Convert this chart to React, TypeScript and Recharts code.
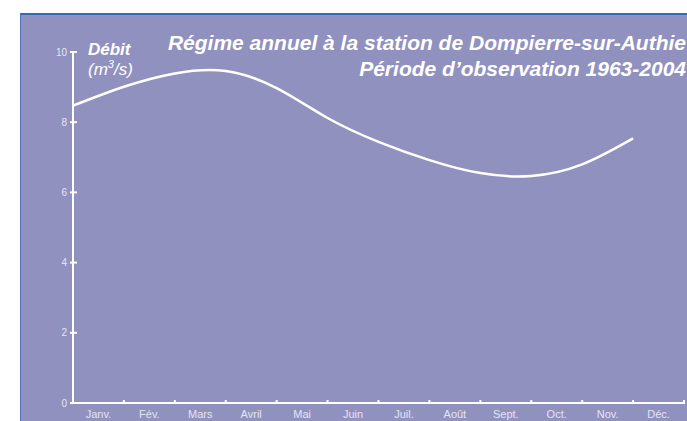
import { LineChart, Line, XAxis, YAxis } from 'recharts';

const monthLabels = ['Janv.', 'Fév.', 'Mars', 'Avril', 'Mai', 'Juin', 'Juil.', 'Août', 'Sept.', 'Oct.', 'Nov.', 'Déc.'];
const debit = [8.47, 9.01, 9.39, 9.46, 8.97, 8.12, 7.44, 6.92, 6.55, 6.47, 6.8, 7.54];
const yTicks = [0, 2, 4, 6, 8, 10];

const data = debit.map((v, i) => ({ m: i, debit: v }));
const boundaryTicks = [...monthLabels.map((_, i) => i), monthLabels.length];

const W = 687;
const H = 421;
const margin = { top: 52, right: 3, left: 0, bottom: 0 };
const yAxisWidth = 73;
const step = (W - margin.left - margin.right - yAxisWidth) / monthLabels.length;

const font = '"Liberation Sans", Arial, sans-serif';
const bg = '#9191c0';
const tickText = '#e4e4f2';

// boundary mark + month label centred in the following interval
const XMark = (props: any) => {
    const { x, y, index } = props;
    const label = monthLabels[index];
    return (
        <g>
            <line x1={x} x2={x} y1={y - 3} y2={y + 1} stroke="#fff" strokeWidth={2} />
            {label && (
                <text x={x + step / 2} y={y + 15} textAnchor="middle" fill={tickText} fontSize={11} fontFamily={font}>
                    {label}
                </text>
            )}
        </g>
    );
};

const YMark = (props: any) => {
    const { x, y, payload } = props;
    return (
        <g>
            <line x1={x - 3} x2={x + 4} y1={y} y2={y} stroke="#fff" strokeWidth={2} />
            <text x={x - 6} y={y} dy="0.35em" textAnchor="end" fill={tickText} fontSize={10} fontFamily={font}>
                {payload.value}
            </text>
        </g>
    );
};

const App = (): JSX.Element => (
    <div style={{ position: 'absolute', left: 0, top: 0, width: W, height: H, background: '#fff', overflow: 'hidden' }}>
        <div
            style={{
                position: 'absolute',
                left: 20,
                top: 13,
                width: W,
                height: H,
                background: bg,
                borderTop: '2px solid #2f6db3',
                borderLeft: '1px solid #4f74b8',
            }}
        />
        <div
            style={{
                position: 'absolute',
                right: 1,
                top: 30,
                textAlign: 'right',
                color: '#fff',
                fontFamily: font,
                fontWeight: 'bold',
                fontStyle: 'italic',
                fontSize: 21,
                lineHeight: '26px',
                whiteSpace: 'nowrap',
            }}
        >
            Régime annuel à la station de Dompierre-sur-Authie
            <br />
            Période d’observation 1963-2004
        </div>
        <div
            style={{
                position: 'absolute',
                left: 88,
                top: 40,
                color: '#fff',
                fontFamily: font,
                fontStyle: 'italic',
                fontSize: 17,
                lineHeight: '20px',
            }}
        >
            <b>Débit</b>
            <br />
            (m<sup style={{ fontSize: 11, lineHeight: 0 }}>3</sup>/s)
        </div>
        <div style={{ position: 'absolute', left: 0, top: 0 }}>
            <LineChart width={W} height={H} data={data} margin={margin}>
                <XAxis
                    dataKey="m"
                    type="number"
                    domain={[0, monthLabels.length]}
                    allowDataOverflow
                    ticks={boundaryTicks}
                    axisLine={{ stroke: '#fff', strokeWidth: 2 }}
                    tickLine={false}
                    tickSize={0}
                    tickMargin={0}
                    tick={<XMark />}
                    interval={0}
                    height={18}
                />
                <YAxis
                    domain={[0, 10]}
                    ticks={yTicks}
                    width={yAxisWidth}
                    axisLine={{ stroke: '#fff', strokeWidth: 2 }}
                    tickLine={false}
                    tickSize={0}
                    tickMargin={0}
                    tick={<YMark />}
                    interval={0}
                />
                <Line
                    type="natural"
                    dataKey="debit"
                    stroke="#fff"
                    strokeWidth={2.5}
                    dot={false}
                    isAnimationActive={false}
                />
            </LineChart>
        </div>
    </div>
);
export default App;
